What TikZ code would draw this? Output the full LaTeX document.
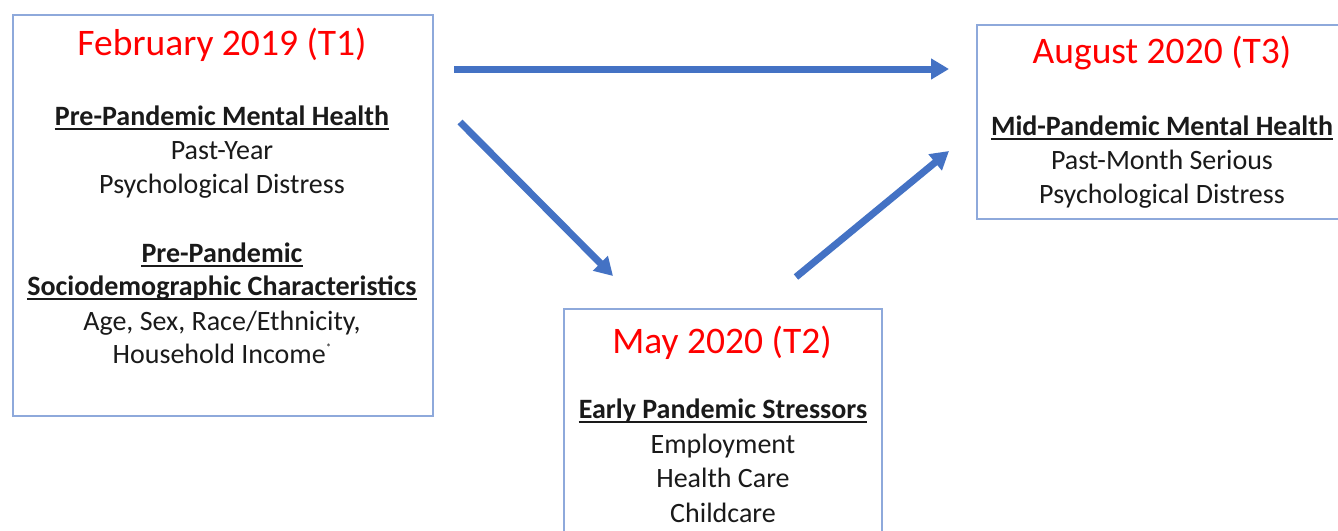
\documentclass[tikz,border=0pt]{standalone}
\usepackage{fontspec}
\setmainfont{Carlito}
\usetikzlibrary{arrows.meta}
\definecolor{boxblue}{HTML}{8EA9DB}
\definecolor{arrblue}{HTML}{4472C4}
\definecolor{ttlred}{HTML}{FF0000}
\definecolor{txt}{HTML}{1A1A1A}
\tikzset{
  box/.style={draw=boxblue, line width=1.5pt, inner sep=0pt, anchor=north west},
  ttl/.style={text=ttlred, font=\fontsize{37.5}{45}\selectfont, anchor=base, inner sep=0pt},
  hd/.style={text=txt, font=\fontsize{28}{34}\selectfont\bfseries, anchor=base, inner sep=0pt},
  bd/.style={text=txt, font=\fontsize{28}{34}\selectfont, anchor=base, inner sep=0pt},
  ul/.style={draw=txt, line width=2pt},
  arr/.style={draw=arrblue, line width=7pt, -{Triangle[length=18pt,width=20pt]}}
}
\begin{document}
\begin{tikzpicture}[x=1pt,y=-1pt]
\useasboundingbox[fill=white] (0,0) rectangle (1338,530);
\clip (0,0) rectangle (1338,530);
% boxes
\node[box, minimum width=420pt, minimum height=401pt] (b1) at (12,14) {};
\node[box, minimum width=380pt, minimum height=194pt] (b3) at (976,24) {};
\node[box, minimum width=318pt, minimum height=250pt] (b2) at (563,308) {};
% T1 texts
\node[ttl] (t1) at (222,55) {February 2019 (T1)};
\node[hd] (h1a) at (222,125) {Pre-Pandemic Mental Health};
\draw[ul] ([yshift=-3.5pt]h1a.base west) -- ([yshift=-3.5pt]h1a.base east);
\node[bd] (l1a) at (222,159) {Past-Year};
\node[bd] (l1b) at (222,193) {Psychological Distress};
\node[hd] (h1b) at (222,262) {Pre-Pandemic\ };
\draw[ul] ([yshift=-3.5pt]h1b.base west) -- ([yshift=-3.5pt]h1b.base east);
\node[hd] (h1c) at (222,295) {Sociodemographic Characteristics};
\draw[ul] ([yshift=-3.5pt]h1c.base west) -- ([yshift=-3.5pt]h1c.base east);
\node[bd] (l1c) at (222,330) {Age, Sex, Race/Ethnicity,};
\node[bd] (l1d) at (222,363) {Household Income\raisebox{12pt}{\fontsize{11}{11}\selectfont *}};
% T3 texts
\node[ttl] (t3) at (1162,63) {August 2020 (T3)};
\node[hd] (h3) at (1162,135) {Mid-Pandemic Mental Health};
\draw[ul] ([yshift=-3.5pt]h3.base west) -- ([yshift=-3.5pt]h3.base east);
\node[bd] (l3a) at (1162,169) {Past-Month Serious};
\node[bd] (l3b) at (1162,203) {Psychological Distress};
% T2 texts
\node[ttl] (t2) at (722,353) {May 2020 (T2)};
\node[hd] (h2) at (723,418) {Early Pandemic Stressors};
\draw[ul] ([yshift=-3.5pt]h2.base west) -- ([yshift=-3.5pt]h2.base east);
\node[bd] (l2a) at (723,453) {Employment};
\node[bd] (l2b) at (723,487) {Health Care};
\node[bd] (l2c) at (723,522) {Childcare};
% arrows
\coordinate (a1s) at (454,69);
\coordinate (a1e) at (949,69);
\coordinate (a2s) at (460,122);
\coordinate (a2e) at (613,276);
\coordinate (a3s) at (796,277);
\coordinate (a3e) at (949,151);
\draw[arr] (a1s) -- (a1e);
\draw[arr] (a2s) -- (a2e);
\draw[arr] (a3s) -- (a3e);
\end{tikzpicture}
\end{document}
